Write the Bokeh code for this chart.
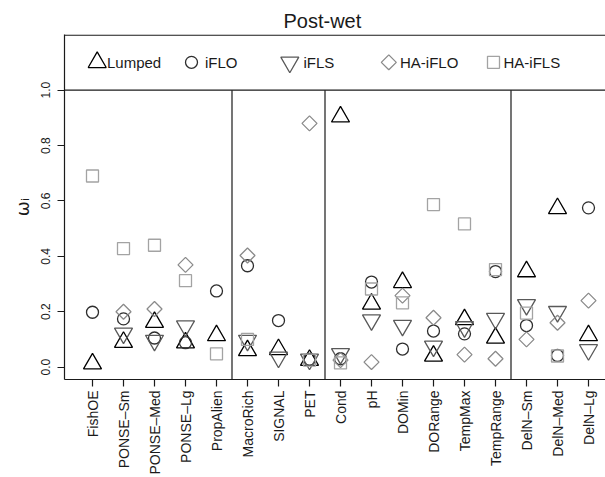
import math
from bokeh.plotting import figure
from bokeh.models import (Range1d, FixedTicker, Span, Label, ColumnDataSource,
                          PrintfTickFormatter)
from bokeh.embed import file_html
from bokeh.resources import INLINE

nan = float("nan")

# ---------------- data ----------------
categories = ["FishOE", "PONSE–Sm", "PONSE–Med", "PONSE–Lg", "PropAlien",
              "MacroRich", "SIGNAL", "PET",
              "Cond", "pH", "DOMin", "DORange", "TempMax", "TempRange",
              "DelN–Sm", "DelN–Med", "DelN–Lg"]
group_sizes = [5, 3, 6, 3]

lumped  = [0.012, 0.090, 0.162, 0.088, 0.114, 0.060, 0.064, 0.025, 0.904, 0.228,
           0.306, 0.040, 0.172, 0.105, 0.345, 0.573, 0.114]
iflo    = [0.198, 0.174, 0.105, 0.088, 0.275, 0.366, 0.168, 0.028, 0.030, 0.307,
           0.065, 0.130, 0.120, 0.345, 0.150, 0.042, 0.575]
ifls    = [nan, 0.122, 0.096, 0.148, nan, 0.096, 0.035, 0.028, 0.048, 0.170,
           0.150, 0.075, 0.145, 0.175, 0.225, 0.200, 0.062]
ha_iflo = [nan, 0.200, 0.210, 0.369, nan, 0.403, nan, 0.880, 0.025, 0.018,
           0.258, 0.178, 0.045, 0.030, 0.100, 0.160, 0.240]
ha_ifls = [0.690, 0.428, 0.440, 0.312, 0.048, 0.100, nan, 0.025, 0.015, 0.282,
           0.232, 0.587, 0.517, 0.352, 0.195, 0.040, nan]

series_names = ["Lumped", "iFLO", "iFLS", "HA-iFLO", "HA-iFLS"]
y_ticks = [0.0, 0.2, 0.4, 0.6, 0.8, 1.0]
title_text = "Post-wet"
y_label = "ωᵢ"

# ---------------- layout (pixels) ----------------
W, H = 605, 477
FL, FR, FT, FB = 64, 605, 34, 381
X1_PX, DX_PX = 92.0, 31.0        # pixel of category 1, pixels per category
Y0_PX, DY_PX = 368.5, 278.5      # pixel of y=0, pixels per unit


def xd(px):
    return 1 + (px - X1_PX) / DX_PX


def yd(py):
    return (Y0_PX - py) / DY_PX


FONT = "Liberation Sans"
INK = "#1a1a1a"

p = figure(width=W, height=H,
           x_range=Range1d(xd(FL), xd(FR)), y_range=Range1d(yd(FB), yd(FT)),
           output_backend="svg", toolbar_location=None)
p.min_border_left = FL
p.min_border_right = 0
p.min_border_top = FT
p.min_border_bottom = H - FB
p.outline_line_color = None
p.grid.visible = False
p.background_fill_color = "white"
p.border_fill_color = "white"

# title
p.title.text = title_text
p.title.text_font = FONT
p.title.text_font_size = "20px"
p.title.text_font_style = "normal"
p.title.text_color = INK
p.title.align = "left"
p.title.offset = 283 - FL
p.title.standoff = 6

# x axis
xs = list(range(1, len(categories) + 1))
xa = p.xaxis[0]
xa.ticker = FixedTicker(ticks=xs)
xa.major_label_overrides = {i: c for i, c in zip(xs, categories)}
xa.major_label_orientation = math.pi / 2
xa.major_label_text_font = FONT
xa.major_label_text_font_size = "14px"
xa.major_label_text_color = INK
xa.major_label_standoff = 4
xa.major_tick_out = 7
xa.major_tick_in = 0
xa.minor_tick_line_color = None
xa.axis_line_width = 1.2
xa.axis_line_color = INK
xa.major_tick_line_color = INK
xa.major_tick_line_width = 1.2

# y axis
ya = p.yaxis[0]
ya.ticker = FixedTicker(ticks=y_ticks)
ya.formatter = PrintfTickFormatter(format="%.1f")
ya.major_label_orientation = "vertical"
ya.major_label_text_font = FONT
ya.major_label_text_font_size = "12px"
ya.major_label_text_color = INK
ya.major_label_standoff = 7
ya.major_tick_out = 7
ya.major_tick_in = 0
ya.minor_tick_line_color = None
ya.axis_line_width = 1.2
ya.axis_line_color = INK
ya.major_tick_line_color = INK
ya.major_tick_line_width = 1.2
ya.axis_label = y_label
ya.axis_label_text_font = "DejaVu Sans"
ya.axis_label_text_font_size = "18px"
ya.axis_label_text_font_style = "normal"
ya.axis_label_text_color = INK
ya.axis_label_standoff = 6

# top border of the box and line separating the legend area
p.add_layout(Span(location=yd(FT + 0.6), dimension="width", line_color=INK, line_width=1.2))
p.add_layout(Span(location=y_ticks[-1], dimension="width", line_color=INK, line_width=1.2))

# group separators
sep_x = []
acc = 0
for g in group_sizes[:-1]:
    acc += g
    sep_x.append(acc + 0.5)
p.segment(x0=sep_x, y0=[yd(FB)] * len(sep_x), x1=sep_x, y1=[y_ticks[-1]] * len(sep_x),
          line_color=INK, line_width=1.2)

# series styles
styles = [
    dict(marker="triangle", size=18, line_color="#000000", angle=0.0),
    dict(marker="circle", size=12, line_color="#2e2e2e", angle=0.0),
    dict(marker="inverted_triangle", size=18, line_color="#595959", angle=0.0),
    dict(marker="square", size=10.6, line_color="#8a8a8a", angle=math.pi / 4),
    dict(marker="square", size=12, line_color="#a3a3a3", angle=0.0),
]
all_series = [lumped, iflo, ifls, ha_iflo, ha_ifls]
for vals, st in zip(all_series, styles):
    src = ColumnDataSource(dict(x=xs, y=vals))
    p.scatter("x", "y", source=src, marker=st["marker"], size=st["size"],
              angle=st["angle"], fill_color=None, line_color=st["line_color"],
              line_width=1.3)

# legend
leg_y = yd(62)
leg_marker_px = [96.7, 191, 289.3, 388.3, 493]
leg_text_px = [106.5, 204.5, 303, 399.5, 503]
for name, st, mpx, tpx in zip(series_names, styles, leg_marker_px, leg_text_px):
    p.scatter([xd(mpx)], [leg_y], marker=st["marker"], size=st["size"], angle=st["angle"],
              fill_color=None, line_color=st["line_color"], line_width=1.3)
    p.add_layout(Label(x=xd(tpx), y=leg_y, text=name, text_align="left",
                       text_baseline="middle", text_font=FONT, text_font_size="15px",
                       text_color=INK))

open("out.html", "w").write(file_html(p, INLINE))
